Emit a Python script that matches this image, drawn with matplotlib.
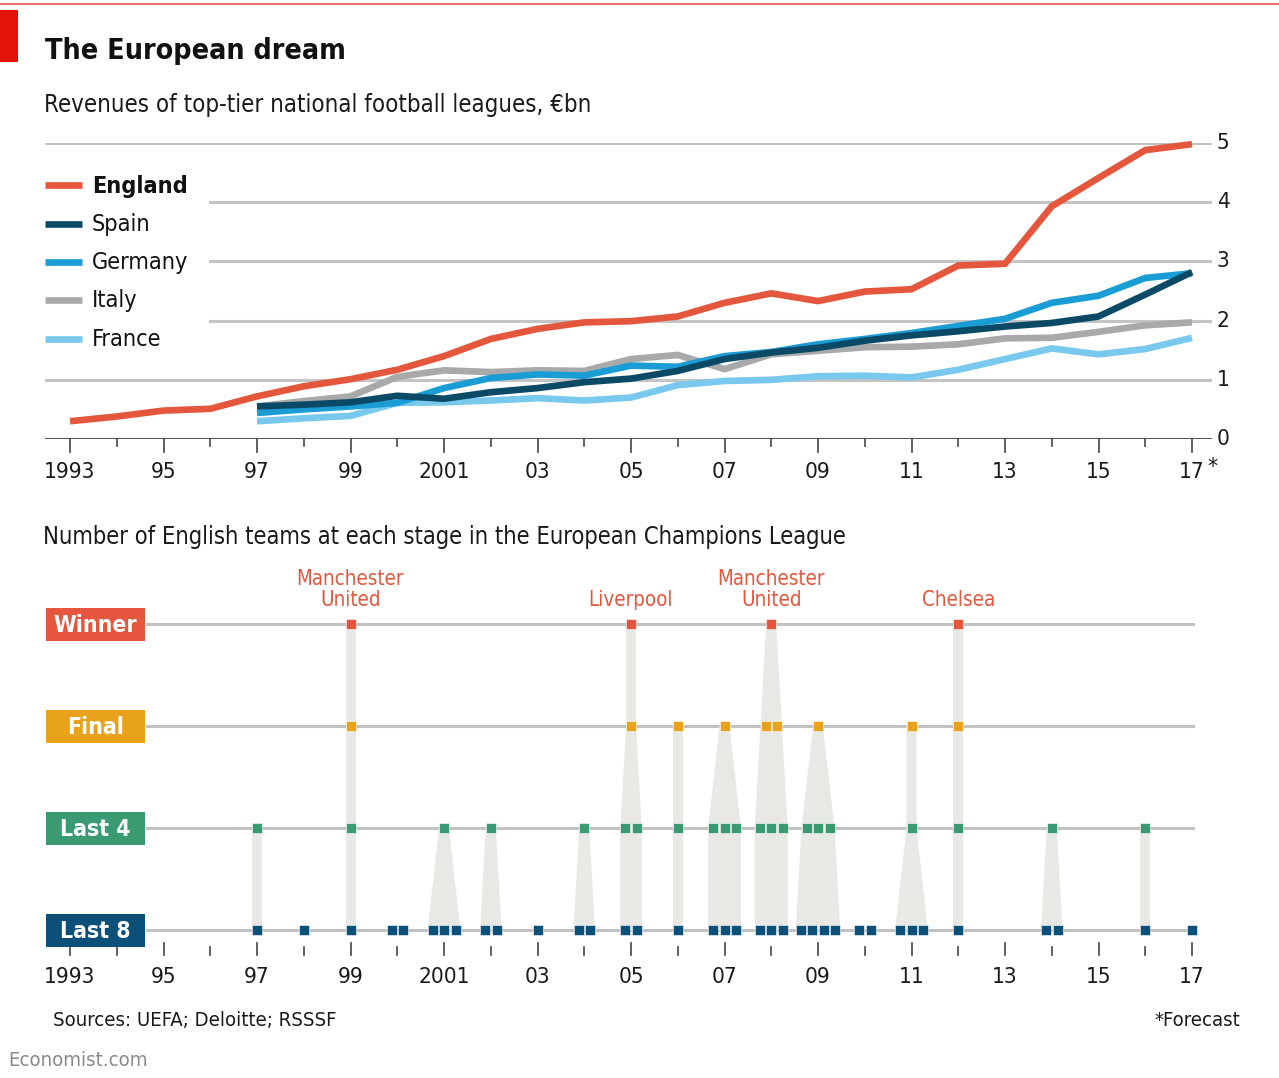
import matplotlib
matplotlib.use("Agg")
import matplotlib.pyplot as plt
from matplotlib.patches import Rectangle, Polygon
from matplotlib.lines import Line2D
import matplotlib.transforms as mtransforms

# ---------------- data ----------------
years = list(range(1993, 2018))
rev_years = list(range(1997, 2018))

england = [0.30, 0.38, 0.48, 0.51, 0.72, 0.89, 1.01, 1.17, 1.40, 1.69, 1.86, 1.97, 1.99,
           2.07, 2.30, 2.46, 2.33, 2.49, 2.53, 2.93, 2.96, 3.93, 4.41, 4.88, 4.98]
spain = [0.55, 0.58, 0.62, 0.73, 0.68, 0.79, 0.86, 0.96, 1.02,
         1.15, 1.35, 1.46, 1.54, 1.66, 1.75, 1.82, 1.90, 1.96, 2.07, 2.44, 2.82]
germany = [0.44, 0.50, 0.55, 0.61, 0.86, 1.03, 1.09, 1.07, 1.24,
           1.22, 1.40, 1.47, 1.60, 1.69, 1.79, 1.91, 2.03, 2.30, 2.42, 2.72, 2.80]
italy = [0.55, 0.64, 0.72, 1.05, 1.16, 1.13, 1.16, 1.15, 1.35,
         1.42, 1.18, 1.43, 1.49, 1.55, 1.56, 1.60, 1.70, 1.71, 1.81, 1.92, 1.97]
france = [0.30, 0.35, 0.39, 0.61, 0.62, 0.65, 0.69, 0.65, 0.70,
          0.91, 0.98, 1.00, 1.06, 1.07, 1.04, 1.17, 1.35, 1.53, 1.43, 1.52, 1.71]

series_names = ["England", "Spain", "Germany", "Italy", "France"]
series_colors = ["#e5573d", "#0a4a66", "#1a9cd4", "#a8a9ab", "#79c9ee"]

# Champions League: number of English teams per stage per year (1993..2017)
stage_names = ["Last 8", "Last 4", "Final", "Winner"]
stage_colors = ["#0b5078", "#3a9a72", "#e8a21c", "#e6553d"]
last8 = [0, 0, 0, 0, 1, 1, 1, 2, 3, 2, 1, 2, 2, 1, 3, 3, 4, 2, 3, 1, 0, 2, 0, 1, 1]
last4 = [0, 0, 0, 0, 1, 0, 1, 0, 1, 1, 0, 1, 2, 1, 3, 3, 3, 0, 1, 1, 0, 1, 0, 1, 0]
final = [0, 0, 0, 0, 0, 0, 1, 0, 0, 0, 0, 0, 1, 1, 1, 2, 1, 0, 1, 1, 0, 0, 0, 0, 0]
winner = [0, 0, 0, 0, 0, 0, 1, 0, 0, 0, 0, 0, 1, 0, 0, 1, 0, 0, 0, 1, 0, 0, 0, 0, 0]
winner_names = {1999: "Manchester\nUnited", 2005: "Liverpool", 2008: "Manchester\nUnited", 2012: "Chelsea"}

top_tick_labels = ["1993", "95", "97", "99", "2001", "03", "05", "07", "09", "11", "13", "15", "17"]
y_ticks = [0, 1, 2, 3, 4, 5]

# ---------------- layout helpers ----------------
W, H = 1279, 1078
DPI = 100
plt.rcParams["font.family"] = ["DejaVu Sans"]
plt.rcParams["font.stretch"] = "condensed"

fig = plt.figure(figsize=(W / DPI, H / DPI), dpi=DPI)
fig.patch.set_facecolor("white")


def fx(px):
    return px / W


def fy(py):
    return 1 - py / H


def add_axes_px(left, top, right, bottom):
    return fig.add_axes([fx(left), fy(bottom), (right - left) / W, (bottom - top) / H])


PX_PER_YEAR = 46.75
X0_PX = 70  # 1993
AX_L, AX_R = 45, 1212
xlim = (1993 - (X0_PX - AX_L) / PX_PER_YEAR, 1993 + (AX_R - X0_PX) / PX_PER_YEAR)

TXT = "#1a1a1a"
FS_TICK = 16.2

# ---------------- header ----------------
fig.add_artist(Rectangle((0, fy(62)), fx(18), (62 - 10) / H, transform=fig.transFigure,
                         color="#e3120b", lw=0))
fig.add_artist(Line2D([0, 1], [fy(4), fy(4)], transform=fig.transFigure, color="#e8534f", lw=1.2))
fig.text(fx(45), fy(51), "The European dream", fontsize=20.5, fontweight="bold",
         color="#111111", va="center", ha="left")
fig.text(fx(44), fy(105), "Revenues of top-tier national football leagues, €bn", fontsize=17.2,
         color=TXT, va="center", ha="left")

# ---------------- top chart ----------------
ax = add_axes_px(AX_L, 143, AX_R, 439)
ax.set_xlim(*xlim)
ax.set_ylim(0, 5)
ax.axis("off")

grid_c = "#c4c4c4"
legend_stop = (210 - AX_L) / (AX_R - AX_L)
for v in y_ticks[1:]:
    start = 0 if v in (1, 5) else legend_stop
    ax.axhline(v, xmin=start, xmax=1, color=grid_c, lw=2.2, zorder=1)
ax.axhline(0, color="#444444", lw=1.3, zorder=5)

lw_line = 4.8
all_series = [england, spain, germany, italy, france]
order = [4, 3, 2, 1, 0]
for i in order:
    xs = years if i == 0 else rev_years
    ax.plot(xs, all_series[i], color=series_colors[i], lw=lw_line, solid_capstyle="butt",
            solid_joinstyle="miter", zorder=3 + (5 - i) * 0.1, clip_on=False)

for v in y_ticks:
    ax.text(fx(1217), fy(439 - v * (439 - 143) / 5), str(v), transform=fig.transFigure,
            fontsize=FS_TICK, color=TXT, va="center", ha="left")

tr_top = mtransforms.blended_transform_factory(ax.transData, fig.transFigure)
for yr in years:
    ln = 13 if (yr % 2 == 1) else 7
    ax.plot([yr, yr], [fy(439), fy(439 + ln)], transform=tr_top, color="#444444", lw=1.2,
            clip_on=False, zorder=5)
for yr, lab in zip(range(1993, 2018, 2), top_tick_labels):
    ax.text(yr, fy(472), lab, transform=tr_top, fontsize=FS_TICK, color=TXT,
            ha="center", va="center")
ax.text(fx(1207), fy(467), "*", transform=fig.transFigure, fontsize=FS_TICK, color=TXT,
        ha="left", va="center")

leg_y = [185, 224, 262, 300, 339]
for i, name in enumerate(series_names):
    fig.add_artist(Line2D([fx(45), fx(82)], [fy(leg_y[i]), fy(leg_y[i])], transform=fig.transFigure,
                          color=series_colors[i], lw=lw_line, solid_capstyle="butt"))
    fig.text(fx(92), fy(leg_y[i] + 1), name, fontsize=16.8,
             fontweight="bold" if i == 0 else "normal", color="#111111",
             ha="left", va="center")

# ---------------- bottom chart ----------------
fig.text(fx(43), fy(537), "Number of English teams at each stage in the European Champions League",
         fontsize=17, color=TXT, ha="left", va="center")

ROW_PX = [930, 828, 726, 624]
B_TOP, B_BOT = 604, 943
ROW_SP = 102
bx = add_axes_px(AX_L, B_TOP, AX_R, B_BOT)
bx.set_xlim(*xlim)
bx.set_ylim(-(B_BOT - ROW_PX[0]) / ROW_SP, 3 + (ROW_PX[3] - B_TOP) / ROW_SP)
bx.axis("off")

g0 = (147 - AX_L) / (AX_R - AX_L)
g1 = (1193 - AX_L) / (AX_R - AX_L)
for k in range(4):
    bx.axhline(k, xmin=g0, xmax=g1, color="#c2c2c2", lw=2.2, zorder=1)

SQ_SP = 11.5 / PX_PER_YEAR
SQ_W = 10.0 / PX_PER_YEAR
stages = [last8, last4, final, winner]


def hw(n):
    return ((n - 1) * SQ_SP + SQ_W) / 2


for j, yr in enumerate(years):
    counts = [s[j] for s in stages]
    if counts[1] > 0:
        top = max(k for k in range(4) if counts[k] > 0)
        left = [(yr - hw(counts[k]), k) for k in range(top + 1)]
        right = [(yr + hw(counts[k]), k) for k in range(top, -1, -1)]
        bx.add_patch(Polygon(left + right, closed=True, facecolor="#e8e8e5", edgecolor="none",
                             zorder=2))
    for k in range(4):
        n = counts[k]
        xs = [yr + (i - (n - 1) / 2) * SQ_SP for i in range(n)]
        bx.plot(xs, [k] * n, ls="none", marker="s", markersize=7.6, markerfacecolor=stage_colors[k],
                markeredgecolor="white", markeredgewidth=0.4, zorder=4, clip_on=False)

for yr, nm in winner_names.items():
    bx.text(yr, 3 + 14 / ROW_SP, nm, fontsize=14.8, color="#e2573d", ha="center", va="bottom",
            linespacing=1.05)

for k in range(4):
    cy = ROW_PX[k]
    fig.add_artist(Rectangle((fx(46), fy(cy + 16.5)), 99 / W, 33 / H, transform=fig.transFigure,
                             facecolor=stage_colors[k], edgecolor="none"))
    fig.text(fx(95.5), fy(cy + 1), stage_names[k], fontsize=16.5, fontweight="bold", color="white",
             ha="center", va="center")

tr_bot = mtransforms.blended_transform_factory(bx.transData, fig.transFigure)
for yr in years:
    t0 = 943 if (yr % 2 == 1) else 947
    bx.plot([yr, yr], [fy(t0), fy(955)], transform=tr_bot, color="#444444", lw=1.2, clip_on=False)
for yr, lab in zip(range(1993, 2018, 2), top_tick_labels):
    bx.text(yr, fy(977), lab, transform=tr_bot, fontsize=FS_TICK, color=TXT,
            ha="center", va="center")

# ---------------- footer ----------------
fig.text(fx(53), fy(1020), "Sources: UEFA; Deloitte; RSSSF", fontsize=14.6, color=TXT,
         ha="left", va="center")
fig.text(fx(1240), fy(1020), "*Forecast", fontsize=14.6, color=TXT, ha="right", va="center")
fig.text(fx(8), fy(1061), "Economist.com", fontsize=14.6, color="#8a8a8a", ha="left", va="center")

fig.savefig("out.png", dpi=DPI, facecolor="white")
